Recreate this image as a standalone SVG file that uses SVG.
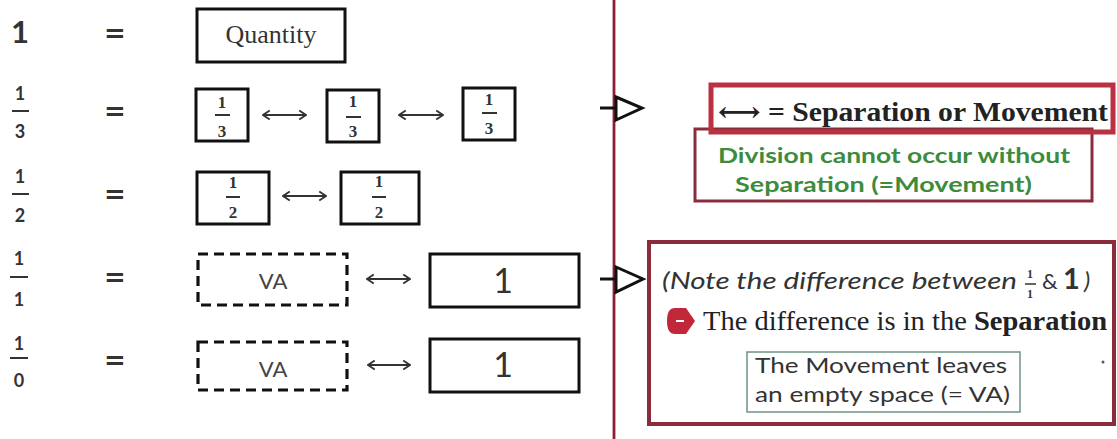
<svg xmlns="http://www.w3.org/2000/svg" width="1117" height="439" viewBox="0 0 1117 439">
<defs>
<style>
.num{font-family:"Lato","DejaVu Sans",sans-serif;fill:#333}
.eq{font-family:"DejaVu Sans",sans-serif;font-weight:bold;fill:#333;font-size:26px;text-anchor:middle}
.fr{font-family:"Liberation Serif",serif;font-weight:bold;fill:#333;font-size:17px;text-anchor:middle}
.box{fill:#fff;stroke:#111;stroke-width:3}
.dash{fill:#fff;stroke:#111;stroke-width:3.2;stroke-dasharray:10 6}
.bar{stroke:#333;stroke-width:2}
.va{font-family:"Lato","DejaVu Sans",sans-serif;font-size:22px;fill:#444;text-anchor:middle}
.one{font-family:"Lato","DejaVu Sans",sans-serif;font-size:34px;fill:#333;text-anchor:middle}
.arr{stroke:#333;stroke-width:2;fill:none;marker-start:url(#ch);marker-end:url(#ch)}
.tri{fill:#fff;stroke:#111;stroke-width:3;stroke-linejoin:miter}
.red{fill:none;stroke:#8b2c3c}
.green{font-family:"Lato","Open Sans",sans-serif;font-weight:bold;font-size:21px;fill:#3d8c3d}
</style>
<marker id="ch" viewBox="0 0 10 12" refX="9" refY="6" markerWidth="9" markerHeight="12" markerUnits="userSpaceOnUse" orient="auto-start-reverse">
<path d="M1.5,1 L9,6 L1.5,11" fill="none" stroke="#333" stroke-width="2"/>
</marker>
</defs>
<rect width="1117" height="439" fill="#fff"/>

<g id="row-labels">
<text class="num" x="20" y="43" font-size="31" font-weight="bold" text-anchor="middle">1</text>
<text class="num" x="20" y="100" font-size="18" font-weight="bold" text-anchor="middle">1</text>
<line class="bar" x1="12" y1="111" x2="29" y2="111"/>
<text class="num" x="20" y="138" font-size="18" font-weight="bold" text-anchor="middle">3</text>
<text class="num" x="20" y="183" font-size="18" font-weight="bold" text-anchor="middle">1</text>
<line class="bar" x1="12" y1="194" x2="29" y2="194"/>
<text class="num" x="20" y="222" font-size="18" font-weight="bold" text-anchor="middle">2</text>
<text class="num" x="19" y="265" font-size="18" font-weight="bold" text-anchor="middle">1</text>
<line class="bar" x1="10" y1="277" x2="28" y2="277"/>
<text class="num" x="19" y="306" font-size="18" font-weight="bold" text-anchor="middle">1</text>
<text class="num" x="19" y="350" font-size="18" font-weight="bold" text-anchor="middle">1</text>
<line class="bar" x1="10" y1="358" x2="28" y2="358"/>
<text class="num" x="19" y="387" font-size="18" font-weight="bold" text-anchor="middle">0</text>
<text class="eq" x="115" y="42">=</text>
<text class="eq" x="115" y="120">=</text>
<text class="eq" x="115" y="203">=</text>
<text class="eq" x="115" y="286">=</text>
<text class="eq" x="115" y="369">=</text>
</g>

<g id="connectors">
<line class="arr" x1="263" y1="115" x2="306" y2="115"/>
<line class="arr" x1="399" y1="115" x2="443" y2="115"/>
<line class="arr" x1="283" y1="196" x2="326" y2="196"/>
<line class="arr" x1="367" y1="279" x2="410" y2="279"/>
<line class="arr" x1="368" y1="365" x2="410" y2="365"/>
<line x1="614" y1="0" x2="614" y2="439" stroke="#8b2035" stroke-width="2.8"/>
<line x1="600" y1="108" x2="615" y2="108" stroke="#111" stroke-width="3"/>
<polygon class="tri" points="616,97 642,108 616,120"/>
<line x1="600" y1="279" x2="615" y2="279" stroke="#111" stroke-width="3"/>
<polygon class="tri" points="616,267 643,279 616,292"/>
</g>

<g id="quantity">
<rect class="box" x="197" y="9" width="148" height="53"/>
<text x="271" y="43" font-family="Liberation Serif, serif" font-size="26" fill="#333" text-anchor="middle">Quantity</text>
</g>

<g id="third-1">
<rect class="box" x="196" y="89" width="52" height="52"/>
<text class="fr" x="222" y="108">1</text>
<line class="bar" x1="215" y1="115" x2="230" y2="115"/>
<text class="fr" x="222" y="137">3</text>
</g>
<g id="third-2">
<rect class="box" x="327" y="90" width="52" height="52"/>
<text class="fr" x="353" y="107">1</text>
<line class="bar" x1="346" y1="117" x2="361" y2="117"/>
<text class="fr" x="353" y="137">3</text>
</g>
<g id="third-3">
<rect class="box" x="463" y="88" width="52" height="52"/>
<text class="fr" x="489" y="105">1</text>
<line class="bar" x1="482" y1="113" x2="497" y2="113"/>
<text class="fr" x="489" y="134">3</text>
</g>

<g id="half-1">
<rect class="box" x="197" y="172" width="72" height="52"/>
<text class="fr" x="233" y="188">1</text>
<line class="bar" x1="226" y1="197" x2="240" y2="197"/>
<text class="fr" x="233" y="218">2</text>
</g>
<g id="half-2">
<rect class="box" x="341" y="172" width="78" height="52" stroke-width="5"/>
<text class="fr" x="379" y="187">1</text>
<line class="bar" x1="372" y1="197" x2="386" y2="197"/>
<text class="fr" x="379" y="218">2</text>
</g>

<g id="va-1">
<rect class="dash" x="198" y="254" width="149" height="51"/>
<text class="va" x="273" y="289">VA</text>
</g>
<g id="one-1">
<rect class="box" x="430" y="254" width="149" height="53"/>
<text class="one" x="503" y="293">1</text>
</g>
<g id="va-2">
<rect class="dash" x="198" y="342" width="149" height="48"/>
<text class="va" x="273" y="377">VA</text>
</g>
<g id="one-2">
<rect class="box" x="430" y="339" width="149" height="53"/>
<text class="one" x="503" y="377">1</text>
</g>

<g id="division-note">
<rect class="red" x="695" y="129" width="397" height="72" stroke-width="3"/>
<text class="green" x="718" y="163" textLength="352" lengthAdjust="spacingAndGlyphs">Division cannot occur without</text>
<text class="green" x="735" y="192" textLength="297" lengthAdjust="spacingAndGlyphs">Separation (=Movement)</text>
</g>
<g id="separation-legend">
<rect x="711" y="85" width="402" height="47" fill="none" stroke="#b83242" stroke-width="5"/>
<text x="718" y="121" font-family="Liberation Serif, DejaVu Serif, serif" font-weight="bold" font-size="27" fill="#222" textLength="390" lengthAdjust="spacingAndGlyphs">⟷ = Separation or Movement</text>
</g>

<g id="difference-note">
<rect class="red" x="649" y="242" width="465" height="182" stroke-width="4"/>
<text x="662" y="289" font-family="Lato, Open Sans, sans-serif" font-style="italic" font-size="24" fill="#333" textLength="355" lengthAdjust="spacingAndGlyphs">(Note the difference between</text>
<text x="1030" y="278" font-family="Liberation Serif, serif" font-weight="bold" font-size="12" fill="#333" text-anchor="middle">1</text>
<line x1="1025" y1="284" x2="1036" y2="284" stroke="#333" stroke-width="1.5"/>
<text x="1030" y="298" font-family="Liberation Serif, serif" font-weight="bold" font-size="12" fill="#333" text-anchor="middle">1</text>
<text x="1042" y="289" font-family="Lato, Open Sans, sans-serif" font-size="22" fill="#333">&amp;</text>
<text x="1063" y="289" font-family="Lato, Open Sans, sans-serif" font-weight="bold" font-size="29" fill="#333">1</text>
<text x="1084" y="289" font-family="Lato, Open Sans, sans-serif" font-style="italic" font-size="24" fill="#333">)</text>
<path d="M675,308 L686,308 L695,321 L686,334 L675,334 Q667,334 667,321 Q667,308 675,308 Z" fill="#c0283a"/>
<line x1="676" y1="321" x2="684" y2="321" stroke="#fff" stroke-width="2"/>
<text x="703" y="330" font-family="Liberation Serif, serif" font-size="27" fill="#222" textLength="404" lengthAdjust="spacingAndGlyphs">The difference is in the <tspan font-weight="bold">Separation</tspan></text>
<rect x="747" y="352" width="273" height="60" fill="none" stroke="#6f9484" stroke-width="1.5"/>
<text x="755" y="373" font-family="Lato, Open Sans, sans-serif" font-size="21" fill="#333" textLength="252" lengthAdjust="spacingAndGlyphs">The Movement leaves</text>
<text x="755" y="402" font-family="Lato, Open Sans, sans-serif" font-size="21" fill="#333" textLength="255" lengthAdjust="spacingAndGlyphs">an empty space (= VA)</text>
<circle cx="1103" cy="362" r="1.5" fill="#555"/>
</g>
</svg>
